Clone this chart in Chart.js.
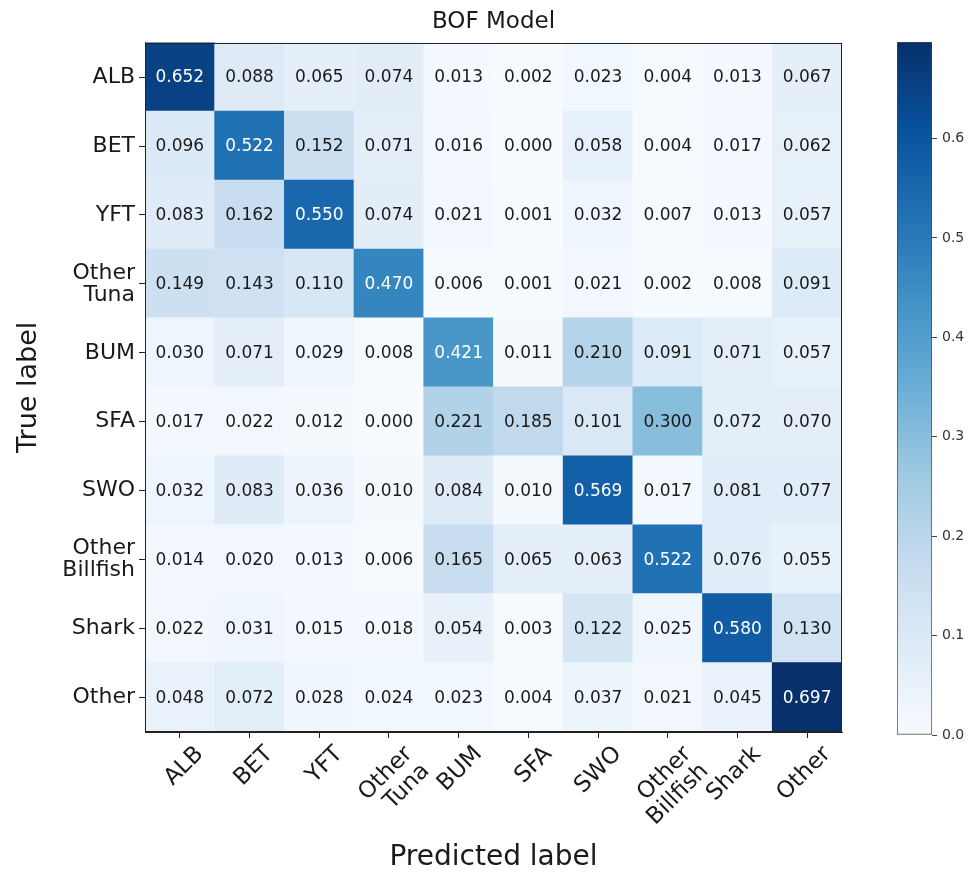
<!DOCTYPE html>
<html>
<head>
<meta charset="utf-8">
<script src="https://cdn.jsdelivr.net/npm/chart.js@4/dist/chart.umd.min.js"></script>
<style>
  html, body { margin: 0; padding: 0; background: #fff; overflow: hidden; }
  #wrap { position: relative; width: 971px; height: 875px; }
  #main { position: absolute; left: 0; top: 0; }
  #cbar { position: absolute; left: 860px; top: 0; }
</style>
</head>
<body>
<div id="wrap">
  <canvas id="main" width="860" height="875"></canvas>
  <canvas id="cbar" width="111" height="875"></canvas>
</div>
<script>
// ---- Data ----
const chartTitle = "BOF Model";
const trueLabels = ["ALB", "BET", "YFT", ["Other", "Tuna"], "BUM", "SFA", "SWO", ["Other", "Billfish"], "Shark", "Other"];
const predictedLabels = ["ALB", "BET", "YFT", ["Other", "Tuna"], "BUM", "SFA", "SWO", ["Other", "Billfish"], "Shark", "Other"];

const rowALB         = [0.652, 0.088, 0.065, 0.074, 0.013, 0.002, 0.023, 0.004, 0.013, 0.067];
const rowBET         = [0.096, 0.522, 0.152, 0.071, 0.016, 0.000, 0.058, 0.004, 0.017, 0.062];
const rowYFT         = [0.083, 0.162, 0.550, 0.074, 0.021, 0.001, 0.032, 0.007, 0.013, 0.057];
const rowOtherTuna   = [0.149, 0.143, 0.110, 0.470, 0.006, 0.001, 0.021, 0.002, 0.008, 0.091];
const rowBUM         = [0.030, 0.071, 0.029, 0.008, 0.421, 0.011, 0.210, 0.091, 0.071, 0.057];
const rowSFA         = [0.017, 0.022, 0.012, 0.000, 0.221, 0.185, 0.101, 0.300, 0.072, 0.070];
const rowSWO         = [0.032, 0.083, 0.036, 0.010, 0.084, 0.010, 0.569, 0.017, 0.081, 0.077];
const rowOtherBill   = [0.014, 0.020, 0.013, 0.006, 0.165, 0.065, 0.063, 0.522, 0.076, 0.055];
const rowShark       = [0.022, 0.031, 0.015, 0.018, 0.054, 0.003, 0.122, 0.025, 0.580, 0.130];
const rowOther       = [0.048, 0.072, 0.028, 0.024, 0.023, 0.004, 0.037, 0.021, 0.045, 0.697];
const colorbarTicks  = [0.0, 0.1, 0.2, 0.3, 0.4, 0.5, 0.6];

const matrix = [rowALB, rowBET, rowYFT, rowOtherTuna, rowBUM, rowSFA, rowSWO, rowOtherBill, rowShark, rowOther];

// category keys (strings) used by the scales; display keeps line breaks
const keyOf = l => [].concat(l).join(' ');
const trueKeys = trueLabels.map(keyOf);
const predKeys = predictedLabels.map(keyOf);

// ---- Colormap (matplotlib "Blues") ----
const blues = ["#f7fbff", "#deebf7", "#c6dbef", "#9ecae1", "#6baed6", "#4292c6", "#2171b5", "#08519c", "#08306b"];
function hexToRgb(h) { return [parseInt(h.substr(1,2),16), parseInt(h.substr(3,2),16), parseInt(h.substr(5,2),16)]; }
const bluesRgb = blues.map(hexToRgb);
let vmin = Infinity, vmax = -Infinity;
matrix.forEach(r => r.forEach(v => { vmin = Math.min(vmin, v); vmax = Math.max(vmax, v); }));
function cmap(v) {
  let t = (v - vmin) / (vmax - vmin);
  t = Math.max(0, Math.min(1, t));
  const p = t * (bluesRgb.length - 1);
  const i = Math.min(Math.floor(p), bluesRgb.length - 2);
  const f = p - i;
  const a = bluesRgb[i], b = bluesRgb[i + 1];
  const c = a.map((x, k) => Math.round(x + (b[k] - x) * f));
  return `rgb(${c[0]},${c[1]},${c[2]})`;
}

const points = [];
matrix.forEach((row, i) => row.forEach((v, j) => points.push({ x: predKeys[j], y: trueKeys[i], v: v })));

const FONT = "'DejaVu Sans', 'Liberation Sans', sans-serif";
const TXT = "#1a1a1a";

const cellLabels = {
  id: 'cellLabels',
  afterDatasetsDraw(chart) {
    const ctx = chart.ctx;
    const meta = chart.getDatasetMeta(0);
    const thresh = vmax / 2;
    ctx.save();
    ctx.font = "17px " + FONT;
    ctx.textAlign = "center";
    ctx.textBaseline = "middle";
    meta.data.forEach((el, k) => {
      const d = chart.data.datasets[0].data[k];
      ctx.fillStyle = d.v > thresh ? "#ffffff" : TXT;
      ctx.fillText(d.v.toFixed(3), el.x, el.y + 1);
    });
    const a = chart.chartArea;
    ctx.strokeStyle = "#222";
    ctx.lineWidth = 1;
    ctx.strokeRect(Math.round(a.left) + 0.5, Math.round(a.top) + 0.5, Math.round(a.width) - 1, Math.round(a.height) - 1);
    ctx.restore();
  }
};

new Chart(document.getElementById('main'), {
  type: 'scatter',
  data: {
    datasets: [{
      data: points,
      pointStyle: 'rect',
      borderWidth: 0,
      backgroundColor: c => c.raw ? cmap(c.raw.v) : '#fff',
      radius: c => {
        const a = c.chart.chartArea;
        if (!a) return 0;
        const s = Math.max(a.width / 10, a.height / 10) + 0.8;
        return s / 2 * Math.SQRT2;
      },
      clip: 0
    }]
  },
  options: {
    responsive: false,
    animation: false,
    events: [],
    layout: { padding: { left: 0, right: 18, top: 0, bottom: 0 } },
    plugins: {
      legend: { display: false },
      tooltip: { enabled: false },
      title: {
        display: true,
        text: chartTitle,
        fullSize: false,
        color: TXT,
        font: { family: FONT, size: 23, weight: 'normal' },
        padding: { top: 8, bottom: 7 }
      }
    },
    scales: {
      x: {
        type: 'category',
        labels: predKeys,
        offset: true,
        position: 'bottom',
        grid: { offset: false, drawOnChartArea: false, drawTicks: true, tickLength: 6, color: '#222', tickWidth: 1 },
        border: { display: true, color: '#222' },
        ticks: {
          color: TXT, font: { family: FONT, size: 23, lineHeight: 1.05 },
          minRotation: 45, maxRotation: 45, autoSkip: false, padding: 4, labelOffset: 20,
          callback: (v, i) => predictedLabels[i]
        },
        title: { display: true, text: 'Predicted label', color: TXT, font: { family: FONT, size: 28 }, padding: { top: 0, bottom: 0 } },
        afterFit: s => { s.height = 143; }
      },
      y: {
        type: 'category',
        labels: trueKeys,
        offset: true,
        position: 'left',
        grid: { offset: false, drawOnChartArea: false, drawTicks: true, tickLength: 6, color: '#222', tickWidth: 1 },
        border: { display: true, color: '#222' },
        ticks: {
          color: TXT, font: { family: FONT, size: 22, lineHeight: 1.0 }, autoSkip: false, padding: 4,
          callback: (v, i) => trueLabels[i]
        },
        title: { display: true, text: 'True label', color: TXT, font: { family: FONT, size: 27 }, padding: { top: 13, bottom: 0 } },
        afterFit: s => { s.width = 145; }
      }
    }
  },
  plugins: [cellLabels]
});

// ---- Colorbar ----
new Chart(document.getElementById('cbar'), {
  type: 'bar',
  data: {
    labels: [''],
    datasets: [{
      data: [[vmin, vmax]],
      backgroundColor: c => {
        const a = c.chart.chartArea;
        if (!a) return blues[4];
        const g = c.chart.ctx.createLinearGradient(0, a.bottom, 0, a.top);
        blues.forEach((b, i) => g.addColorStop(i / (blues.length - 1), b));
        return g;
      },
      borderColor: '#444',
      borderWidth: 1,
      borderSkipped: false,
      categoryPercentage: 1,
      barPercentage: 1
    }]
  },
  options: {
    responsive: false,
    animation: false,
    events: [],
    layout: { padding: { left: 37, right: 0, top: 42, bottom: 140 } },
    plugins: { legend: { display: false }, tooltip: { enabled: false } },
    scales: {
      x: { display: false },
      y: {
        position: 'right',
        min: vmin,
        max: vmax,
        afterBuildTicks: s => { s.ticks = colorbarTicks.map(v => ({ value: v })); },
        grid: { drawOnChartArea: false, drawTicks: true, tickLength: 5, color: '#444' },
        border: { display: false },
        ticks: { color: '#333', font: { family: FONT, size: 14 }, padding: 5, callback: v => Number(v).toFixed(1) },
        afterFit: s => { s.width = 39; }
      }
    }
  }
});
</script>
</body>
</html>
